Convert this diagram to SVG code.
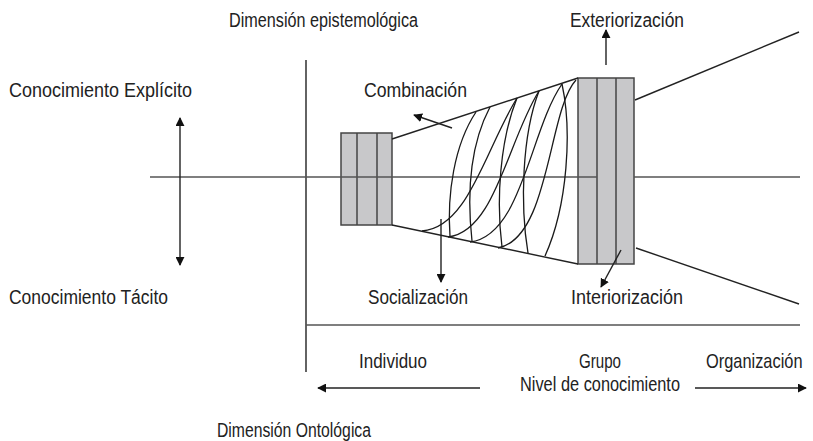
<svg xmlns="http://www.w3.org/2000/svg" width="813" height="441" viewBox="0 0 813 441">
<defs>
<style>
.t{font-family:"Liberation Sans",Arial,sans-serif;font-size:20px;fill:#222}
.ln{stroke:#222;stroke-width:1.4;fill:none}
.ax{stroke:#555;stroke-width:1.6;fill:none}
.box{fill:#c8c8ca;stroke:#444;stroke-width:1.5}
.cv{stroke:#1a1a1a;stroke-width:1.3;fill:none}
</style>
<marker id="ah" viewBox="0 0 10 10" refX="9" refY="5" markerWidth="9" markerHeight="9" markerUnits="userSpaceOnUse" orient="auto">
<path d="M0,0 L10,5 L0,10 z" fill="#111"/>
</marker>
</defs>
<rect width="813" height="441" fill="#fff"/>

<g id="axes">
<line class="ln" x1="306" y1="60" x2="306" y2="372"/>
<line class="ax" x1="306" y1="325" x2="800" y2="325"/>
</g>

<g id="small-box">
<rect class="box" x="341" y="133" width="51" height="92"/>
<line class="box" x1="357" y1="133" x2="357" y2="225"/>
<line class="box" x1="377" y1="133" x2="377" y2="225"/>
</g>

<g id="big-box">
<rect class="box" x="578" y="78" width="56" height="186"/>
<line class="box" x1="597" y1="78" x2="597" y2="264"/>
<line class="box" x1="616" y1="78" x2="616" y2="264"/>
</g>

<g id="connectors">
<line class="ax" x1="150" y1="177" x2="597" y2="177"/>
<line class="ax" x1="634" y1="177" x2="800" y2="177"/>
<line class="ln" x1="392" y1="139" x2="578" y2="78"/>
<line class="ln" x1="392" y1="225" x2="578" y2="264"/>
<line class="ln" x1="635" y1="100" x2="799" y2="32"/>
<line class="ln" x1="636" y1="248" x2="799" y2="304"/>
<line class="ln" x1="180" y1="177" x2="180" y2="118" marker-end="url(#ah)"/>
<line class="ln" x1="180" y1="177" x2="180" y2="265" marker-end="url(#ah)"/>
<line class="ln" x1="452" y1="128" x2="414" y2="115" marker-end="url(#ah)"/>
<line class="ln" x1="441" y1="219" x2="441" y2="282" marker-end="url(#ah)"/>
<line class="ln" x1="606" y1="65" x2="606" y2="30" marker-end="url(#ah)"/>
<line class="ln" x1="621" y1="250" x2="601" y2="287" marker-end="url(#ah)"/>
<line class="ln" x1="480" y1="388" x2="318" y2="388" marker-end="url(#ah)"/>
<line class="ln" x1="695" y1="388" x2="806" y2="388" marker-end="url(#ah)"/>
</g>

<g id="spiral">
<path class="cv" d="M476,112 C454,145 447,195 450,236"/>
<path class="cv" d="M490,107 C470,145 467,195 472,241"/>
<path class="cv" d="M517,98 C500,140 496,200 502,247"/>
<path class="cv" d="M539,91 C522,135 520,205 528,253"/>
<path class="cv" d="M562,84 C572,130 568,205 545,256"/>
<path class="cv" d="M422,231 C468,228 485,150 517,98"/>
<path class="cv" d="M448,237 C495,232 508,140 539,91"/>
<path class="cv" d="M470,242 C522,236 530,130 562,84"/>
<path class="cv" d="M498,248 C550,238 548,110 576,80"/>
</g>

<g id="labels">
<text class="t" x="229" y="27" textLength="189" lengthAdjust="spacingAndGlyphs">Dimensión epistemológica</text>
<text class="t" x="570" y="27" textLength="114" lengthAdjust="spacingAndGlyphs">Exteriorización</text>
<text class="t" x="9" y="97" textLength="183" lengthAdjust="spacingAndGlyphs">Conocimiento Explícito</text>
<text class="t" x="364" y="97" textLength="103" lengthAdjust="spacingAndGlyphs">Combinación</text>
<text class="t" x="9" y="304" textLength="159" lengthAdjust="spacingAndGlyphs">Conocimiento Tácito</text>
<text class="t" x="368" y="304" textLength="100" lengthAdjust="spacingAndGlyphs">Socialización</text>
<text class="t" x="571" y="304" textLength="112" lengthAdjust="spacingAndGlyphs">Interiorización</text>
<text class="t" x="359" y="368" textLength="68" lengthAdjust="spacingAndGlyphs">Individuo</text>
<text class="t" x="579" y="368" textLength="42" lengthAdjust="spacingAndGlyphs">Grupo</text>
<text class="t" transform="translate(706,368) scale(0.82,1)">Organización</text>
<text class="t" x="520" y="391" textLength="160" lengthAdjust="spacingAndGlyphs">Nivel de conocimiento</text>
<text class="t" x="217" y="437" textLength="154" lengthAdjust="spacingAndGlyphs">Dimensión Ontológica</text>
</g>
</svg>
